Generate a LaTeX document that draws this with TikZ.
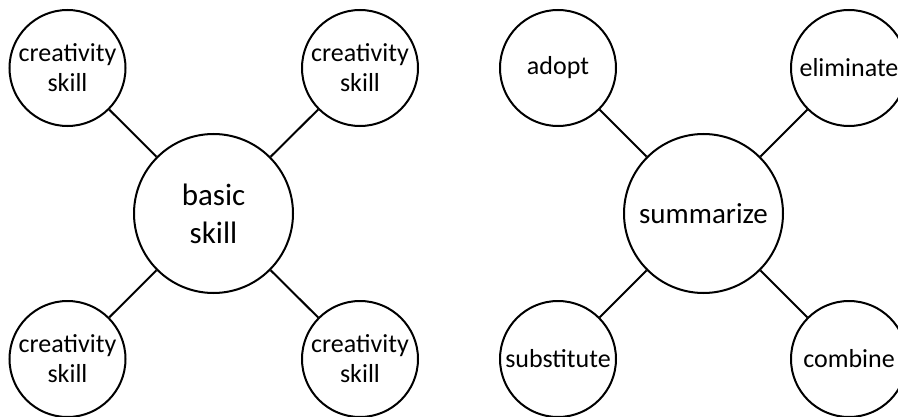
\documentclass[tikz,border=0pt]{standalone}
\usepackage{fontspec}
\setmainfont{Carlito}
\usepackage{tikz}

\tikzset{
  hub/.style={circle, draw, line width=2pt, minimum size=159pt, inner sep=0pt,
    align=center, font=\fontsize{31}{38}\selectfont},
  leaf/.style={circle, draw, line width=2pt, minimum size=116pt, inner sep=0pt,
    align=center, font=\fontsize{26}{30}\selectfont},
  spoke/.style={line width=2pt}
}

\begin{document}
\begin{tikzpicture}[x=1pt,y=1pt]

\useasboundingbox (0,0) rectangle (898,416);

% left map
\node[hub] (basic) at (213.5,202.5) {basic\\skill};
\foreach \x/\y/\n in {67.5/348/tl, 360/348/tr, 67.5/57/bl, 360/57/br}
{
  \node[leaf] (skill\n) at (\x,\y) {creativity\\skill};
  \draw[spoke] (basic) -- (skill\n);
}

% right map
\node[hub, font=\fontsize{29}{35}\selectfont] (summ) at (703.5,202.5) {summarize};
\foreach \x/\y/\n/\txt in {558/348/adopt/adopt, 849/348/elim/eliminate,
                           558/57/subst/substitute, 849/57/comb/combine}
{
  \node[leaf] (\n) at (\x,\y) {\txt};
  \draw[spoke] (summ) -- (\n);
}

\end{tikzpicture}
\end{document}
